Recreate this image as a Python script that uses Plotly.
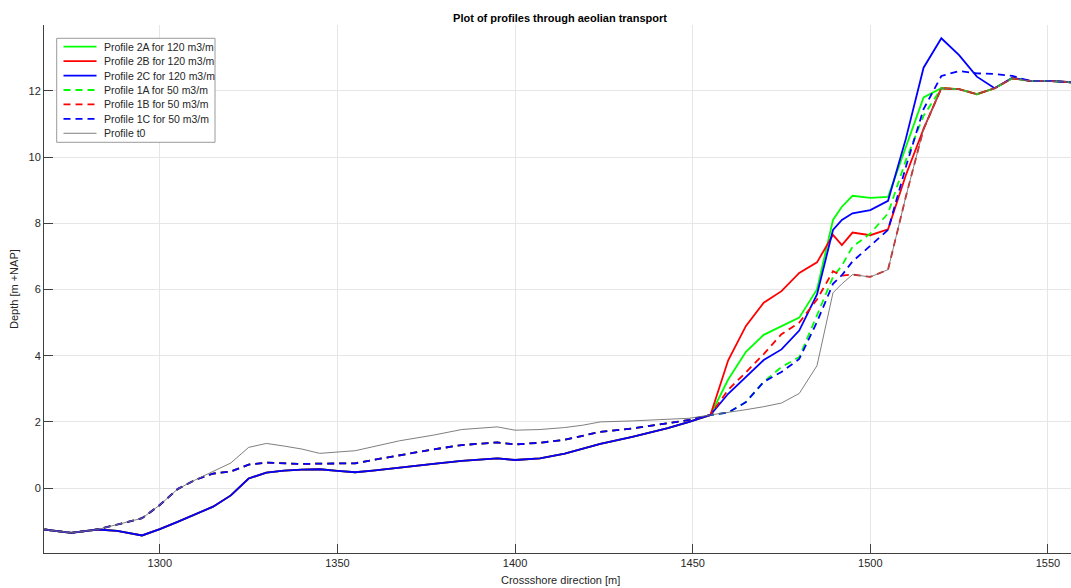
import plotly.graph_objects as go

# ---------------- data ----------------
x_left = [1267.5, 1275, 1282.5, 1288, 1295, 1300, 1305, 1310, 1315, 1320, 1325, 1330, 1335, 1340,
          1345, 1350, 1355, 1360, 1367.5, 1377, 1385, 1395, 1400, 1407, 1414, 1419, 1424, 1433,
          1443, 1449, 1455]
x_right = [1460, 1465, 1470, 1475, 1480, 1485, 1489.5, 1492, 1495, 1500, 1505, 1510, 1515, 1520,
           1525, 1530, 1535, 1540, 1545, 1550, 1556.5]

t0_left = [-1.25, -1.35, -1.25, -1.11, -0.91, -0.51, -0.03, 0.25, 0.51, 0.76, 1.23, 1.35, 1.27, 1.18,
           1.05, 1.09, 1.13, 1.25, 1.43, 1.60, 1.77, 1.85, 1.75, 1.77, 1.83, 1.90, 2.00, 2.03,
           2.08, 2.11, 2.21]
p120_left = [-1.25, -1.35, -1.25, -1.29, -1.43, -1.24, -1.02, -0.78, -0.56, -0.22, 0.29, 0.47, 0.53, 0.56,
             0.57, 0.52, 0.48, 0.53, 0.61, 0.73, 0.82, 0.90, 0.85, 0.90, 1.04, 1.20, 1.34, 1.55,
             1.81, 2.00, 2.21]
p50_left = [-1.25, -1.35, -1.25, -1.11, -0.91, -0.51, -0.03, 0.25, 0.44, 0.50, 0.71, 0.77, 0.74, 0.73,
            0.74, 0.75, 0.75, 0.85, 1.00, 1.17, 1.30, 1.38, 1.32, 1.37, 1.46, 1.59, 1.70, 1.80,
            1.96, 2.06, 2.21]

t0_right = [2.28, 2.37, 2.46, 2.57, 2.86, 3.70, 5.90, 6.17, 6.45, 6.38, 6.60, 8.80, 10.85, 12.08,
            12.05, 11.90, 12.08, 12.38, 12.30, 12.30, 12.26]
p2a_right = [3.28, 4.12, 4.63, 4.90, 5.15, 6.00, 8.10, 8.50, 8.83, 8.77, 8.80, 10.30, 11.80, 12.08,
             12.05, 11.90, 12.08, 12.38, 12.30, 12.30, 12.26]
p2b_right = [3.86, 4.90, 5.60, 5.95, 6.50, 6.82, 7.65, 7.34, 7.72, 7.64, 7.82, 9.45, 10.85, 12.08,
             12.05, 11.90, 12.08, 12.38, 12.30, 12.30, 12.26]
p2c_right = [2.85, 3.37, 3.87, 4.19, 4.76, 5.85, 7.80, 8.10, 8.30, 8.40, 8.68, 10.55, 12.70, 13.59,
             13.08, 12.43, 12.08, 12.40, 12.30, 12.30, 12.26]
p1a_right = [2.28, 2.60, 3.21, 3.66, 3.96, 5.22, 6.38, 6.72, 7.29, 7.69, 8.30, 9.90, 11.25, 12.08,
             12.05, 11.90, 12.08, 12.38, 12.30, 12.30, 12.26]
p1b_right = [2.97, 3.50, 4.05, 4.65, 5.00, 5.70, 6.55, 6.42, 6.45, 6.38, 6.60, 8.80, 10.85, 12.08,
             12.05, 11.90, 12.08, 12.38, 12.30, 12.30, 12.26]
p1c_right = [2.28, 2.60, 3.21, 3.51, 3.90, 5.02, 6.17, 6.43, 6.85, 7.32, 7.80, 9.70, 11.45, 12.45,
             12.60, 12.53, 12.51, 12.45, 12.30, 12.30, 12.26]

names = ["Profile 2A for 120 m3/m", "Profile 2B for 120 m3/m", "Profile 2C for 120 m3/m",
         "Profile 1A for 50 m3/m", "Profile 1B for 50 m3/m", "Profile 1C for 50 m3/m", "Profile t0"]
colors = ["#00ff00", "#ff0000", "#0000ff", "#00ff00", "#ff0000", "#0000ff", "#707070"]
dashes = ["solid", "solid", "solid", "7px,5px", "7px,5px", "7px,5px", "solid"]
widths = [1.8, 1.8, 1.8, 1.8, 1.8, 1.8, 0.9]

x_tick_vals = [1300, 1350, 1400, 1450, 1500, 1550]
y_tick_vals = [0, 2, 4, 6, 8, 10, 12]

# ---------------- build ----------------
xs = x_left + x_right
series = [p120_left + p2a_right, p120_left + p2b_right, p120_left + p2c_right,
          p50_left + p1a_right, p50_left + p1b_right, p50_left + p1c_right,
          t0_left + t0_right]

FONT = "Liberation Sans, Arial, sans-serif"
TXT = "#262626"
W, H = 1071, 588
ML, MR, MT, MB = 44, 0, 25, 35
PW, PH = W - ML - MR, H - MT - MB

def px_x(px):
    return (px - ML) / PW

def px_y(py):
    return (H - MB - py) / PH

fig = go.Figure()
for name, ys, c, d, w in zip(names, series, colors, dashes, widths):
    fig.add_trace(go.Scatter(x=xs, y=ys, mode="lines", name=name, showlegend=False,
                             line=dict(color=c, width=w, dash=d)))

# manual MATLAB-style legend
shapes = [dict(type="rect", xref="paper", yref="paper",
               x0=px_x(56.7), x1=px_x(215), y0=px_y(142.3), y1=px_y(38.3),
               line=dict(color="#9a9a9a", width=1), fillcolor="white", layer="above")]
annotations = []
for i, (name, c, d, w) in enumerate(zip(names, colors, dashes, widths)):
    yy = 46.7 + 14.43 * i
    shapes.append(dict(type="line", xref="paper", yref="paper",
                       x0=px_x(63.5), x1=px_x(96.5), y0=px_y(yy), y1=px_y(yy),
                       line=dict(color=c, width=w, dash=d), layer="above"))
    annotations.append(dict(text=name, xref="paper", yref="paper", x=px_x(101.5), y=px_y(yy),
                            xanchor="left", yanchor="middle", showarrow=False,
                            font=dict(family=FONT, size=10.5, color=TXT)))

annotations.append(dict(text="Crossshore direction [m]", xref="paper", yref="paper",
                        x=px_x(560), y=px_y(580), xanchor="center", yanchor="middle",
                        showarrow=False, font=dict(family=FONT, size=11, color=TXT)))
annotations.append(dict(text="Depth [m +NAP]", xref="paper", yref="paper",
                        x=px_x(14), y=px_y(289), xanchor="center", yanchor="middle",
                        textangle=-90, showarrow=False, font=dict(family=FONT, size=11, color=TXT)))

fig.update_layout(
    width=W, height=H,
    margin=dict(l=ML, r=MR, t=MT, b=MB),
    paper_bgcolor="white", plot_bgcolor="white",
    title=dict(text="<b>Plot of profiles through aeolian transport</b>",
               x=px_x(560), xref="paper", xanchor="center",
               y=1 - 18 / H, yref="container", yanchor="middle",
               font=dict(family=FONT, size=11, color="#000000")),
    shapes=shapes, annotations=annotations,
    xaxis=dict(range=[1267.4, 1556.5], tickvals=x_tick_vals, ticks="inside", ticklen=9,
               tickcolor="#404040", showline=True, linecolor="#404040", linewidth=1,
               showgrid=True, gridcolor="#e6e6e6", gridwidth=1, zeroline=False,
               tickfont=dict(family=FONT, size=11, color=TXT)),
    yaxis=dict(range=[-1.96, 13.99], tickvals=y_tick_vals, ticks="inside", ticklen=9,
               tickcolor="#404040", showline=True, linecolor="#404040", linewidth=1,
               showgrid=True, gridcolor="#e6e6e6", gridwidth=1, zeroline=False,
               tickfont=dict(family=FONT, size=11, color=TXT)),
)

fig.write_html("out.html", config={"displayModeBar": False},
               post_script="document.body.style.margin='0px';document.body.style.overflow='hidden';")
